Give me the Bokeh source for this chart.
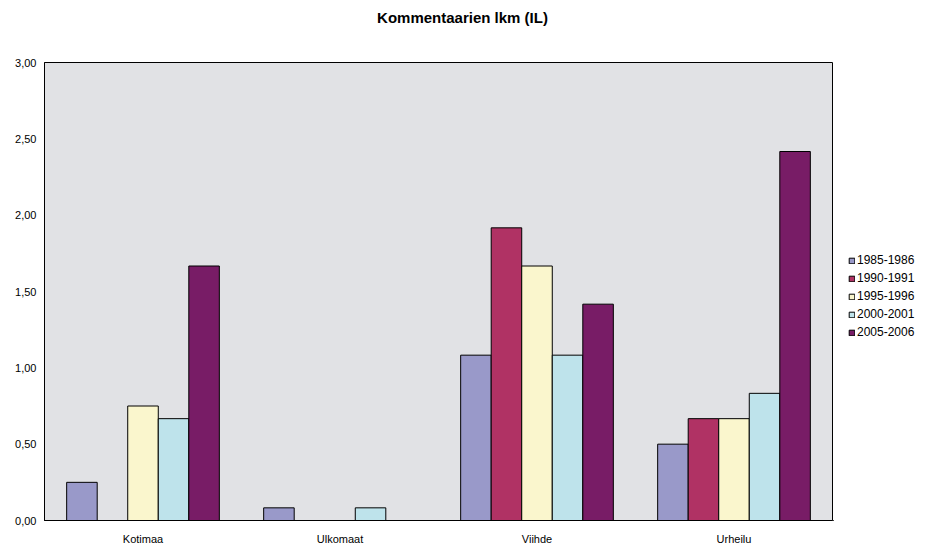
from bokeh.plotting import figure
from bokeh.layouts import column, row
from bokeh.models import (ColumnDataSource, Range1d, FactorRange, CustomJSTickFormatter,
                          Legend, LegendItem, FixedTicker, Label)
from bokeh.transform import dodge
from bokeh.embed import file_html
from bokeh.resources import INLINE

categories = ["Kotimaa", "Ulkomaat", "Viihde", "Urheilu"]
series = ["1985-1986", "1990-1991", "1995-1996", "2000-2001", "2005-2006"]
v1985 = [0.25, 0.083, 1.083, 0.5]
v1990 = [0.0, 0.0, 1.917, 0.667]
v1995 = [0.75, 0.0, 1.667, 0.667]
v2000 = [0.667, 0.083, 1.083, 0.833]
v2005 = [1.667, 0.0, 1.417, 2.417]
colors = ["#9999C9", "#B03264", "#FAF6CD", "#BEE3EB", "#781C66"]
y_ticks = [0, 0.5, 1.0, 1.5, 2.0, 2.5, 3.0]
title_text = "Kommentaarien lkm (IL)"

FONT = "Liberation Sans"
W, H = 928, 547
TOP_H = 40
LEG_W = 95

# ---- title strip ----
t = figure(width=W, height=TOP_H, x_range=Range1d(0, W), y_range=Range1d(0, TOP_H),
           output_backend="svg", toolbar_location=None, x_axis_type=None, y_axis_type=None,
           min_border=0, outline_line_color=None)
t.xgrid.grid_line_color = None
t.ygrid.grid_line_color = None
t.add_layout(Label(x=462, y=TOP_H - 16.5, text=title_text, text_font=FONT, text_font_size="15px",
                   text_font_style="bold", text_color="black", text_align="center",
                   text_baseline="middle"))

# ---- main chart ----
source = ColumnDataSource(dict(cat=categories, s0=v1985, s1=v1990, s2=v1995, s3=v2000, s4=v2005))

p = figure(width=W - LEG_W, height=H - TOP_H, x_range=FactorRange(*categories),
           y_range=Range1d(0, 3), output_backend="svg", toolbar_location=None,
           min_border_left=44, min_border_top=62 - TOP_H, min_border_bottom=26, min_border_right=1)

bw = 0.155
offsets = [-2 * bw, -bw, 0, bw, 2 * bw]
for i, c in enumerate(colors):
    p.vbar(x=dodge("cat", offsets[i], range=p.x_range), top="s%d" % i, width=bw,
           source=source, fill_color=c, line_color="black", line_width=1)

p.background_fill_color = "#E1E2E5"
p.border_fill_color = "white"
p.outline_line_color = "black"
p.outline_line_width = 1
p.xgrid.grid_line_color = None
p.ygrid.grid_line_color = None

p.yaxis.ticker = FixedTicker(ticks=y_ticks)
p.yaxis.formatter = CustomJSTickFormatter(code="return tick.toFixed(2).replace('.', ',');")
for ax in (p.xaxis[0], p.yaxis[0]):
    ax.axis_line_color = "black"
    ax.axis_line_width = 1
    ax.major_tick_line_color = None
    ax.minor_tick_line_color = None
    ax.major_tick_out = 0
    ax.major_tick_in = 0
    ax.minor_tick_out = 0
    ax.major_label_text_font = FONT
    ax.major_label_text_font_size = "11px"
    ax.major_label_text_color = "black"
p.yaxis.major_label_standoff = 8
p.xaxis.major_label_standoff = 12

# ---- legend strip ----
q = figure(width=LEG_W, height=H - TOP_H, x_range=Range1d(0, 1), y_range=Range1d(0, 1),
           output_backend="svg", toolbar_location=None, x_axis_type=None, y_axis_type=None,
           min_border=0, outline_line_color=None)
q.xgrid.grid_line_color = None
q.ygrid.grid_line_color = None
items = []
for s, c in zip(series, colors):
    # off-frame swatch source so that the legend can draw its glyph
    r = q.vbar(x=[-10], top=[0], width=0.1, fill_color=c, line_color="black", line_width=1)
    items.append(LegendItem(label=s, renderers=[r]))
legend = Legend(items=items, location=(15, 181), margin=0, padding=0, spacing=4,
                glyph_width=7, glyph_height=7, label_standoff=2, label_height=12,
                label_text_font=FONT, label_text_font_size="12px", label_text_color="black",
                border_line_color=None, background_fill_alpha=0)
q.add_layout(legend, "center")

layout = column(t, row(p, q, spacing=0), spacing=0)
open("out.html", "w").write(file_html(layout, INLINE))
